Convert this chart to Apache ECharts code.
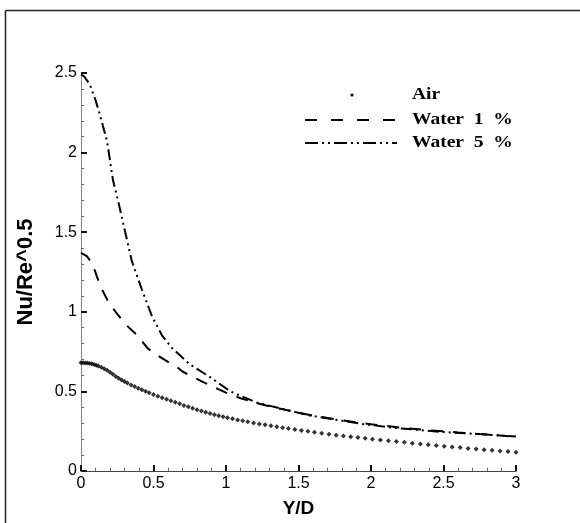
<!DOCTYPE html>
<html>
<head>
<meta charset="utf-8">
<script src="https://cdn.jsdelivr.net/npm/echarts@6/dist/echarts.min.js"></script>
<style>html,body{margin:0;padding:0;background:#fff;}#c{width:580px;height:523px;}</style>
</head>
<body>
<div id="c"></div>
<script>
// ---- data ----
var airX = [0,0.015,0.03,0.045,0.06,0.075,0.09,0.105,0.12,0.14,0.16,0.18,0.2,0.22,0.24,0.26,0.28,0.3,0.32,0.345,0.37,0.395,0.42,0.445,0.47,0.5,0.53,0.56,0.59,0.62,0.65,0.68,0.71,0.74,0.77,0.8,0.83,0.86,0.89,0.92,0.95,0.98,1.01,1.045,1.08,1.115,1.15,1.19,1.23,1.27,1.31,1.35,1.39,1.43,1.475,1.52,1.565,1.61,1.66,1.71,1.76,1.81,1.86,1.91,1.96,2.01,2.065,2.12,2.175,2.23,2.285,2.34,2.395,2.45,2.505,2.56,2.615,2.67,2.725,2.78,2.835,2.89,2.945,3.0];
var airY = [0.68,0.68,0.679,0.678,0.676,0.673,0.669,0.665,0.66,0.652,0.643,0.633,0.62,0.607,0.594,0.582,0.572,0.562,0.552,0.54,0.53,0.52,0.51,0.501,0.492,0.48,0.47,0.46,0.451,0.442,0.432,0.422,0.412,0.403,0.394,0.385,0.377,0.369,0.361,0.354,0.347,0.341,0.335,0.328,0.321,0.315,0.309,0.302,0.296,0.29,0.284,0.278,0.272,0.267,0.261,0.255,0.249,0.243,0.237,0.231,0.225,0.22,0.215,0.21,0.205,0.2,0.195,0.19,0.185,0.18,0.175,0.17,0.165,0.16,0.156,0.151,0.147,0.142,0.138,0.134,0.13,0.126,0.122,0.118];

var w1X = [0,0.04,0.08,0.11,0.145,0.19,0.255,0.32,0.39,0.46,0.53,0.6,0.66,0.7,0.76,0.84,0.92,1.0,1.1,1.2,1.3,1.4,1.5,1.6,1.7,1.8,1.9,2.0,2.2,2.4,2.6,2.8,3.0];
var w1Y = [1.37,1.35,1.30,1.22,1.14,1.06,0.98,0.91,0.85,0.77,0.725,0.685,0.655,0.625,0.595,0.56,0.525,0.492,0.457,0.43,0.406,0.386,0.366,0.348,0.333,0.319,0.306,0.294,0.273,0.256,0.242,0.229,0.215];

var w5X = [0,0.02,0.06,0.1,0.13,0.18,0.22,0.26,0.3,0.35,0.42,0.49,0.56,0.63,0.75,0.89,1.03,1.21,1.39,1.58,1.65,1.92,2.15,2.48,2.75,3.0];
var w5Y = [2.49,2.48,2.43,2.33,2.24,2.07,1.83,1.68,1.52,1.32,1.14,0.97,0.85,0.77,0.67,0.59,0.50,0.43,0.39,0.348,0.338,0.298,0.272,0.246,0.231,0.217];

var xTicks = [0,0.5,1,1.5,2,2.5,3];
var yTicks = [0,0.5,1,1.5,2,2.5];
var seriesNames = ['Air','Water  1  %','Water  5  %'];

function pairs(xs, ys){ return xs.map(function(x,i){ return [x, ys[i]]; }); }

var chart = echarts.init(document.getElementById('c'), null, {renderer:'canvas'});
var axisFont = {fontFamily:'Liberation Sans, Arial, sans-serif', fontSize:16, color:'#000'};
chart.setOption({
  animation:false,
  backgroundColor:'#fff',
  grid:{left:81, right:64, top:73, bottom:51, containLabel:false},
  xAxis:{
    type:'value', min:0, max:3, interval:0.5,
    name:'Y/D', nameLocation:'middle', nameGap:28,
    nameTextStyle:{fontFamily:'Liberation Sans, Arial, sans-serif', fontSize:19, fontWeight:'bold', color:'#000'},
    axisLine:{show:true, lineStyle:{color:'#444', width:1}},
    axisTick:{show:true, inside:true, length:6, lineStyle:{color:'#111', width:2}},
    minorTick:{show:true, splitNumber:5, length:3, lineStyle:{color:'#666', width:1}},
    splitLine:{show:false},
    axisLabel:Object.assign({margin:5, formatter:function(v){return String(v);}}, axisFont)
  },
  yAxis:{
    type:'value', min:0, max:2.5, interval:0.5,
    name:'Nu/Re^0.5', nameLocation:'middle', nameGap:44, nameRotate:90,
    nameTextStyle:{fontFamily:'Liberation Sans, Arial, sans-serif', fontSize:22, fontWeight:'bold', color:'#000'},
    axisLine:{show:true, lineStyle:{color:'#888', width:1}},
    axisTick:{show:true, inside:true, length:6, lineStyle:{color:'#111', width:2}},
    minorTick:{show:true, splitNumber:5, length:3, lineStyle:{color:'#666', width:1}},
    splitLine:{show:false},
    axisLabel:Object.assign({margin:4, formatter:function(v){return String(v);}}, axisFont)
  },
  series:[
    {name:seriesNames[0], type:'scatter', data:pairs(airX, airY), symbol:'diamond', symbolSize:5,
     itemStyle:{color:'#000'}},
    {name:seriesNames[1], type:'line', data:pairs(w1X, w1Y), showSymbol:false, symbol:'none',
     lineStyle:{color:'#000', width:2, type:[12,10]}},
    {name:seriesNames[2], type:'line', data:pairs(w5X, w5Y), showSymbol:false, symbol:'none',
     lineStyle:{color:'#000', width:2, type:[11,4,2,4,2,4]}}
  ],
  graphic:[
    {type:'line', shape:{x1:5.5,y1:10.5,x2:580,y2:10.5}, style:{stroke:'#222', lineWidth:1.5}},
    {type:'line', shape:{x1:5.5,y1:10.5,x2:5.5,y2:523}, style:{stroke:'#222', lineWidth:1.5}},
    {type:'circle', shape:{cx:352, cy:95, r:1.6}, style:{fill:'#000'}},
    {type:'line', shape:{x1:305,y1:120,x2:397,y2:120}, style:{stroke:'#000', lineWidth:2, lineDash:[12,14]}},
    {type:'line', shape:{x1:305,y1:143,x2:397,y2:143}, style:{stroke:'#000', lineWidth:2, lineDash:[13,4,2,4,2,4]}},
    {type:'text', x:412, y:95, scaleX:1.22, style:{text:seriesNames[0], font:'bold 16px "Liberation Serif", "Times New Roman", serif', fill:'#000', verticalAlign:'middle', align:'left'}},
    {type:'text', x:412, y:120, scaleX:1.22, style:{text:seriesNames[1], font:'bold 16px "Liberation Serif", "Times New Roman", serif', fill:'#000', verticalAlign:'middle', align:'left'}},
    {type:'text', x:412, y:143, scaleX:1.22, style:{text:seriesNames[2], font:'bold 16px "Liberation Serif", "Times New Roman", serif', fill:'#000', verticalAlign:'middle', align:'left'}}
  ]
});
</script>
</body>
</html>
